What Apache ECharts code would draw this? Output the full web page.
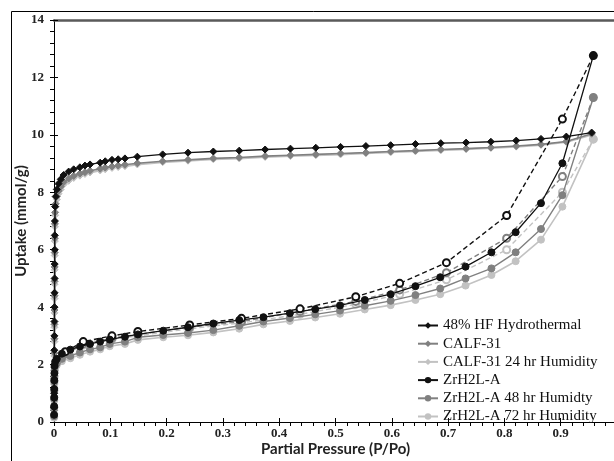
<!DOCTYPE html>
<html>
<head>
<meta charset="utf-8">
<script src="https://cdn.jsdelivr.net/npm/echarts@6/dist/echarts.min.js"></script>
<style>
html, body { margin: 0; padding: 0; background: #fff; }
#chart { width: 614px; height: 461px; }
</style>
</head>
<body>
<div id="chart"></div>
<script>
// CALF-31 isotherms (diamonds)
const calfPressure = [0.0002, 0.0003, 0.0004, 0.0005, 0.0006, 0.0007, 0.0008, 0.0009, 0.001, 0.0011, 0.0012, 0.0013, 0.0014, 0.0016, 0.002,
    0.003, 0.005, 0.008, 0.012, 0.017, 0.026, 0.035, 0.046, 0.055, 0.064, 0.082, 0.091, 0.103, 0.114, 0.126,
    0.148, 0.193, 0.238, 0.283, 0.329, 0.375, 0.42, 0.465, 0.509, 0.554, 0.598, 0.642, 0.687, 0.732, 0.776,
    0.821, 0.865, 0.91, 0.955]
const hfUptake = [0.5, 1, 1.5, 2, 2.5, 3, 3.5, 4, 4.5, 5, 5.5, 6, 6.5, 7, 7.5,
    7.85, 8.1, 8.3, 8.45, 8.6, 8.72, 8.8, 8.87, 8.93, 8.97, 9.03, 9.08, 9.13, 9.15, 9.18,
    9.24, 9.32, 9.38, 9.42, 9.45, 9.49, 9.52, 9.55, 9.58, 9.61, 9.64, 9.68, 9.71, 9.73, 9.76,
    9.8, 9.86, 9.94, 10.08]
const calf31Uptake = [0.4, 0.9, 1.4, 1.9, 2.4, 2.9, 3.4, 3.9, 4.4, 4.9, 5.4, 5.9, 6.4, 6.9, 7.3,
    7.6, 7.85, 8.05, 8.2, 8.35, 8.48, 8.57, 8.65, 8.7, 8.75, 8.82, 8.86, 8.9, 8.93, 8.96,
    9.01, 9.08, 9.13, 9.18, 9.21, 9.26, 9.29, 9.32, 9.35, 9.38, 9.42, 9.45, 9.49, 9.52, 9.56,
    9.61, 9.67, 9.77, 10.04]
const calf24Uptake = [0.3, 0.8, 1.3, 1.8, 2.3, 2.8, 3.3, 3.8, 4.3, 4.8, 5.3, 5.8, 6.3, 6.8, 7.2,
    7.5, 7.75, 7.95, 8.1, 8.27, 8.4, 8.5, 8.58, 8.64, 8.69, 8.76, 8.8, 8.85, 8.88, 8.91,
    8.97, 9.05, 9.1, 9.15, 9.18, 9.23, 9.26, 9.29, 9.32, 9.36, 9.39, 9.43, 9.46, 9.5, 9.54,
    9.59, 9.65, 9.75, 10.0]

// ZrH2L-A adsorption (filled circles)
const zrPressure = [0.0002, 0.0003, 0.0004, 0.0005, 0.0006, 0.0008, 0.001, 0.002,
    0.005, 0.014, 0.029, 0.046, 0.064, 0.082, 0.099, 0.126, 0.149, 0.194, 0.238, 0.283, 0.329,
    0.372, 0.419, 0.464, 0.508, 0.552, 0.598, 0.642, 0.686, 0.731, 0.777, 0.82, 0.865, 0.903, 0.958]
const zrUptake = [0.25, 0.55, 0.85, 1.15, 1.45, 1.7, 1.95, 2.1,
    2.2, 2.38, 2.52, 2.63, 2.72, 2.8, 2.87, 2.97, 3.05, 3.18, 3.3, 3.43, 3.55,
    3.65, 3.79, 3.93, 4.06, 4.25, 4.45, 4.73, 5.04, 5.41, 5.91, 6.61, 7.62, 9.01, 12.76]
const zr48Uptake = [0.2, 0.5, 0.8, 1.1, 1.4, 1.6, 1.8, 1.95,
    2.05, 2.2, 2.3, 2.42, 2.53, 2.6, 2.72, 2.8, 2.95, 3.03, 3.1, 3.2, 3.35,
    3.5, 3.62, 3.75, 3.88, 4.05, 4.22, 4.42, 4.65, 5.0, 5.35, 5.91, 6.72, 7.9, 11.3]
const zr72Uptake = [0.15, 0.45, 0.75, 1.05, 1.35, 1.55, 1.75, 1.9,
    1.98, 2.12, 2.22, 2.34, 2.45, 2.53, 2.64, 2.72, 2.86, 2.95, 3.02, 3.12, 3.25,
    3.4, 3.52, 3.64, 3.77, 3.92, 4.07, 4.25, 4.45, 4.75, 5.12, 5.6, 6.35, 7.5, 9.85]

// ZrH2L-A desorption (dashed, open circles)
const desPressure = [0.958, 0.903, 0.804, 0.697, 0.614, 0.536, 0.437, 0.333, 0.241, 0.149, 0.103, 0.052, 0.02]
const zrDesUptake = [12.76, 10.55, 7.19, 5.55, 4.83, 4.36, 3.94, 3.61, 3.38, 3.15, 3.0, 2.8, 2.45]
const zr48DesUptake = [11.3, 8.55, 6.4, 5.2, 4.6, 4.2, 3.85, 3.5, 3.3, 3.05, 2.92, 2.72, 2.4]
const zr72DesUptake = [9.85, 8.0, 6.0, 4.95, 4.45, 4.1, 3.75, 3.45, 3.25, 3.0, 2.88, 2.68, 2.35]

const legendNames = ["48% HF Hydrothermal", "CALF-31", "CALF-31 24 hr Humidity",
    "ZrH2L-A", "ZrH2L-A 48 hr Humidty", "ZrH2L-A 72 hr Humidity"]

const BLACK = "#111"
const GRAY = "#808080"
const LIGHT = "#c2c2c2"
const serif = "Liberation Serif"

const pairs = (xs, ys) => xs.map((x, i) => [x, ys[i]])

const adsSeries = (name, xs, ys, color, symbol, width, z) => ({
    name: name,
    type: "line",
    data: pairs(xs, ys),
    symbol: symbol,
    symbolSize: 7,
    showAllSymbol: true,
    z: z,
    lineStyle: { color: color, width: width },
    itemStyle: { color: color, borderColor: color },
})

const desSeries = (name, ys, color, z) => ({
    name: name,
    type: "line",
    data: pairs(desPressure, ys),
    symbol: "emptyCircle",
    symbolSize: 7,
    z: z,
    lineStyle: { color: color, width: 1.4, type: [5, 3] },
    itemStyle: { color: color, borderColor: color, borderWidth: 1 },
})

const chart = echarts.init(document.getElementById("chart"), null, { renderer: "canvas" })

chart.setOption({
    animation: false,
    backgroundColor: "#fff",
    grid: { left: 54, top: 20, right: -3, bottom: 39, outerBoundsMode: "none", containLabel: false },
    graphic: [
        {
            type: "rect",
            shape: { x: 11.5, y: 11.5, width: 700, height: 500 },
            style: { fill: "none", stroke: "#000", lineWidth: 1 },
            silent: true,
        },
    ],
    legend: {
        data: legendNames,
        orient: "vertical",
        left: 412,
        top: 313,
        itemWidth: 20,
        itemHeight: 8,
        itemGap: 3.2,
        textStyle: { fontFamily: serif, fontSize: 15, color: "#111", lineHeight: 15 },
    },
    xAxis: [
        {
            type: "value",
            min: 0,
            max: 1,
            interval: 0.1,
            name: "Partial Pressure (P/Po)",
            nameLocation: "middle",
            nameMoveOverlap: false,
            nameGap: 20,
            nameTextStyle: { fontFamily: "Lato", fontWeight: "bold", fontSize: 15, color: "#222" },
            axisLine: { lineStyle: { color: "#000", width: 1 } },
            axisTick: { length: 4, lineStyle: { color: "#000" } },
            minorTick: { show: true, splitNumber: 5, length: 4, lineStyle: { color: "#000" } },
            axisLabel: { fontFamily: serif, fontWeight: "bold", fontSize: 13, color: "#222", margin: 5 },
            splitLine: { show: false },
        },
        {
            type: "value",
            position: "bottom",
            min: 0,
            max: 1,
            interval: 0.1,
            axisLine: { show: false },
            axisTick: { inside: true, length: 4, lineStyle: { color: "#000" } },
            axisLabel: { show: false },
            splitLine: { show: false },
        },
        {
            type: "value",
            position: "top",
            min: 0,
            max: 1,
            axisLine: { lineStyle: { color: "#5a5a5a", width: 2.5 } },
            axisTick: { show: false },
            axisLabel: { show: false },
            splitLine: { show: false },
        },
    ],
    yAxis: [
        {
            type: "value",
            min: 0,
            max: 14,
            interval: 2,
            name: "Uptake (mmol/g)",
            nameLocation: "middle",
            nameMoveOverlap: false,
            nameGap: 25,
            nameTextStyle: { fontFamily: "Lato", fontWeight: "bold", fontSize: 15, color: "#222" },
            axisLine: { show: true, lineStyle: { color: "#000", width: 1 } },
            axisTick: { show: true, length: 4, lineStyle: { color: "#000" } },
            minorTick: { show: true, splitNumber: 5, length: 4, lineStyle: { color: "#000" } },
            axisLabel: { fontFamily: serif, fontWeight: "bold", fontSize: 13, color: "#222", margin: 10 },
            splitLine: { show: false },
        },
        {
            type: "value",
            position: "left",
            min: 0,
            max: 14,
            interval: 2,
            axisLine: { show: false },
            axisTick: { show: true, inside: true, length: 4, lineStyle: { color: "#000" } },
            axisLabel: { show: false },
            splitLine: { show: false },
        },
    ],
    series: [
        adsSeries("CALF-31 24 hr Humidity", calfPressure, calf24Uptake, LIGHT, "diamond", 2, 2),
        adsSeries("CALF-31", calfPressure, calf31Uptake, GRAY, "diamond", 1.6, 3),
        adsSeries("48% HF Hydrothermal", calfPressure, hfUptake, BLACK, "diamond", 1.3, 4),
        desSeries("ZrH2L-A 72 hr desorption", zr72DesUptake, LIGHT, 2),
        desSeries("ZrH2L-A 48 hr desorption", zr48DesUptake, GRAY, 3),
        desSeries("ZrH2L-A desorption", zrDesUptake, BLACK, 4),
        adsSeries("ZrH2L-A 72 hr Humidity", zrPressure, zr72Uptake, LIGHT, "circle", 1.6, 2),
        adsSeries("ZrH2L-A 48 hr Humidty", zrPressure, zr48Uptake, GRAY, "circle", 1.4, 3),
        adsSeries("ZrH2L-A", zrPressure, zrUptake, BLACK, "circle", 1.3, 4),
    ],
})
</script>
</body>
</html>
